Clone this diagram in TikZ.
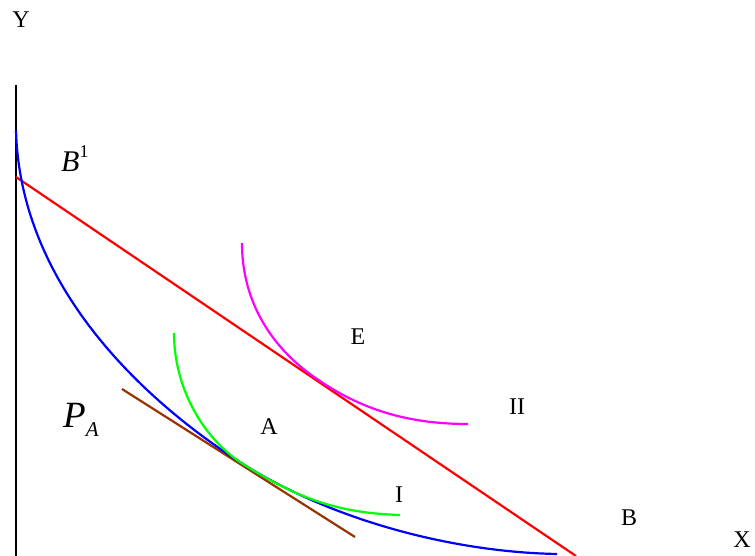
\documentclass[tikz,border=0pt]{standalone}
\usepackage{fontspec}
\setmainfont{Liberation Serif}
\usetikzlibrary{positioning}

\definecolor{budget}{RGB}{255,0,0}
\definecolor{frontier}{RGB}{0,0,255}
\definecolor{iclow}{RGB}{0,255,0}
\definecolor{ichigh}{RGB}{255,0,255}
\definecolor{price}{RGB}{153,51,0}

\begin{document}
\begin{tikzpicture}[
  x=1pt, y=-1pt,
  lbl/.style={inner sep=0pt, font=\fontsize{24}{28}\selectfont},
  curve/.style={line width=2.2pt},
]
\useasboundingbox (0,0) rectangle (755,556);

% ---- axis -----------------------------------------------------------------
\coordinate (ytop) at (16,85);
\coordinate (ybot) at (16,556);
\draw[line width=2.4pt] (ytop) -- (ybot);

% ---- budget line and price line -------------------------------------------
\coordinate (b1) at (16,177);
\coordinate (b)  at (576,556);
\draw[curve, budget] (b1) -- (b);

\coordinate (pa1) at (122,389);
\coordinate (pa2) at (355,537);
\draw[curve, price] (pa1) -- (pa2);

% ---- production frontier ----------------------------------------------------
\coordinate (ftop) at (16,130);
\coordinate (ptA)  at (243,464);
\coordinate (fend) at (557,554);
\draw[curve, frontier] (ftop) .. controls (20,290) and (150,405) .. (ptA)
  .. controls (330,519) and (450,552) .. (fend);

% ---- indifference curves ----------------------------------------------------
\coordinate (itop) at (174,333);
\coordinate (iend) at (400,515);
\draw[curve, iclow] (itop) .. controls (174,390) and (205,440) .. (ptA)
  .. controls (300,500) and (340,513) .. (iend);

\coordinate (iitop) at (242,243);
\coordinate (ptE)   at (320,381);
\coordinate (iiend) at (468,424);
\draw[curve, ichigh] (iitop) .. controls (242,310) and (280,355) .. (ptE)
  .. controls (370,415) and (420,424) .. (iiend);

% ---- labels -----------------------------------------------------------------
\node[lbl, anchor=base] (ylbl) at (21,28) {Y};
\node[lbl, anchor=base] (xlbl) at (742,547) {X};
\node[lbl, anchor=base west, font=\fontsize{30}{34}\selectfont] (b1lbl) at (61,172)
  {\textit{B}\raisebox{14pt}{\fontsize{18}{20}\selectfont 1}};
\node[lbl, anchor=base west, font=\fontsize{37}{40}\selectfont] (palbl) at (63,427)
  {\textit{P}\raisebox{-9pt}{\fontsize{21}{24}\selectfont\itshape A}};
\node[lbl, anchor=base] (elbl)  at (358,344) {E};
\node[lbl, anchor=base] (albl)  at (269,434) {A};
\node[lbl, anchor=base] (ilbl)  at (399,502) {I};
\node[lbl, anchor=base] (iilbl) at (517,414) {II};
\node[lbl, anchor=base] (blbl)  at (629,525) {B};

\end{tikzpicture}
\end{document}
